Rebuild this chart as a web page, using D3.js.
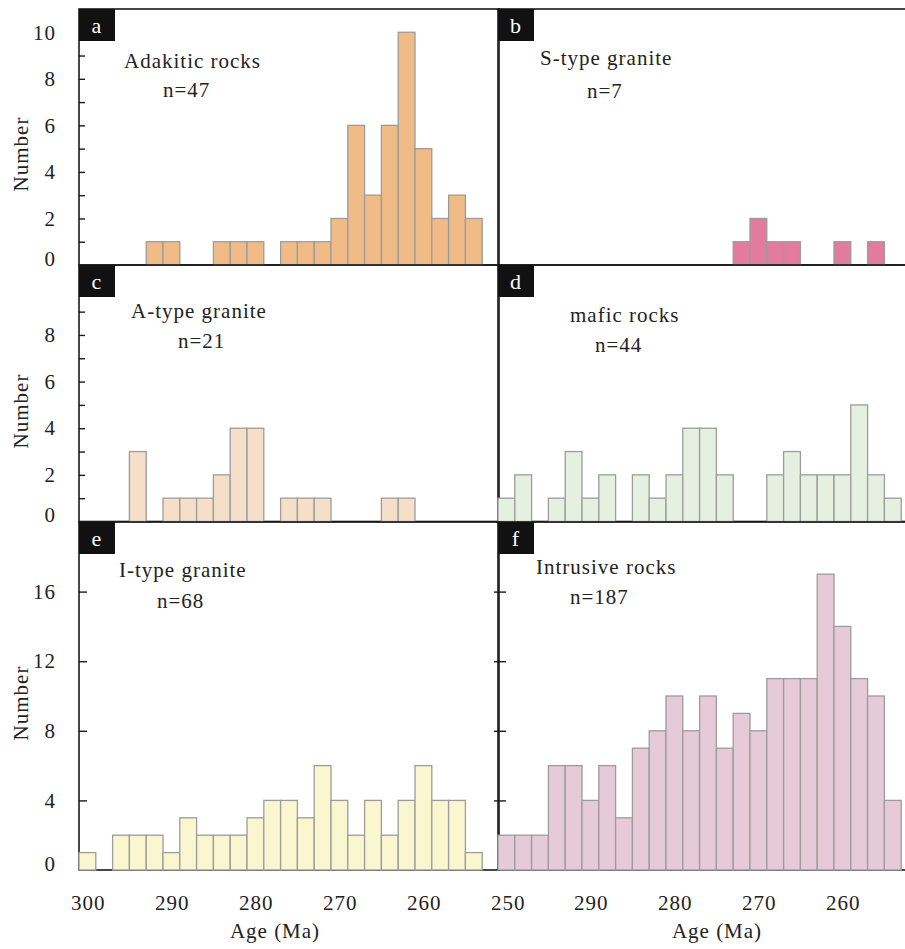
<!DOCTYPE html>
<html>
<head>
<meta charset="utf-8">
<script src="https://cdn.jsdelivr.net/npm/d3@7"></script>
<style>
body { margin: 0; background: #fff; }
svg text { font-family: "Liberation Serif", "Times New Roman", serif; fill: #222; letter-spacing: 1px; }
</style>
</head>
<body>
<svg width="905" height="949"></svg>
<script>
const svg = d3.select("svg");

// 2 Ma bins, keyed by their older edge: 302-300 Ma ... 254-252 Ma
const binStarts = d3.range(302, 252, -2);

// counts per bin
const adakitic  = [0,0,0,0,1,1,0,0,1,1,1,0,1,1,1,2,6,3,6,10,5,2,3,2,0];
const sType     = [0,0,0,0,0,0,0,0,0,0,0,0,0,0,1,2,1,1,0,0,1,0,1,0,0];
const aType     = [0,0,0,3,0,1,1,1,2,4,4,0,1,1,1,0,0,0,1,1,0,0,0,0,0];
const mafic     = [1,2,0,1,3,1,2,0,2,1,2,4,4,2,0,0,2,3,2,2,2,5,2,1,0];
const iType     = [1,0,2,2,2,1,3,2,2,2,3,4,4,3,6,4,2,4,2,4,6,4,4,1,0];
const intrusive = [2,2,2,6,6,4,6,3,7,8,10,8,10,7,9,8,11,11,11,17,14,11,10,4,0];

const ageTicksLeft = [300, 290, 280, 270, 260, 250];
const ageTicksRight = [290, 280, 270, 260];
const ageTickMarks = [290, 280, 270, 260];

const colLeft = [79, 498];
const colWidth = 420;
const rows = [
  {top: 9,   bottom: 265,   max: 11, ticks: d3.range(1, 11), labels: [0, 2, 4, 6, 8, 10], title: 154},
  {top: 265, bottom: 521.5, max: 11, ticks: d3.range(1, 11), labels: [0, 2, 4, 6, 8],     title: 411},
  {top: 522, bottom: 870,   max: 20, ticks: [4, 8, 12, 16],  labels: [0, 4, 8, 12, 16],   title: 703}
];

const panels = [
  {letter: "a", name: "Adakitic rocks",  counts: adakitic,  color: "#f0bb87", col: 0, row: 0, title: [45, 59], count: [84, 88]},
  {letter: "b", name: "S-type granite",  counts: sType,     color: "#e27b9d", col: 1, row: 0, title: [42, 56], count: [89, 89]},
  {letter: "c", name: "A-type granite",  counts: aType,     color: "#f5dfc8", col: 0, row: 1, title: [52, 53], count: [99, 83]},
  {letter: "d", name: "mafic rocks",     counts: mafic,     color: "#e6f0e1", col: 1, row: 1, title: [72, 57], count: [97, 87]},
  {letter: "e", name: "I-type granite",  counts: iType,     color: "#faf6cf", col: 0, row: 2, title: [40, 55], count: [78, 86]},
  {letter: "f", name: "Intrusive rocks", counts: intrusive, color: "#e6cad8", col: 1, row: 2, title: [38, 52], count: [72, 82]}
];

panels.forEach(p => {
  const r = rows[p.row];
  const x0 = colLeft[p.col];
  const x = d3.scaleLinear().domain([302, 252]).range([x0, x0 + colWidth]);
  const y = d3.scaleLinear().domain([0, r.max]).range([r.bottom, r.top]);
  const g = svg.append("g");

  // inward y ticks
  if (p.col === 0 || p.row === 2) {
    g.append("g")
      .attr("transform", "translate(" + x0 + ",0)")
      .call(d3.axisRight(y).tickValues(r.ticks).tickSize(p.row === 2 ? 8 : 6).tickFormat(""))
      .call(a => a.select(".domain").remove());
  }
  if (p.col === 0 && p.row === 2) {
    g.append("g")
      .attr("transform", "translate(" + (x0 + colWidth) + ",0)")
      .call(d3.axisLeft(y).tickValues(r.ticks).tickSize(5).tickFormat(""))
      .call(a => a.select(".domain").remove());
  }
  // y labels on the left column
  if (p.col === 0) {
    g.append("g")
      .attr("transform", "translate(" + x0 + ",0)")
      .call(d3.axisLeft(y).tickValues(r.labels).tickSize(0).tickPadding(23))
      .call(a => a.select(".domain").remove())
      .call(a => a.selectAll("text").attr("font-size", 21).attr("fill", "#222")
        .attr("font-family", "Liberation Serif, serif")
        .attr("dy", d => d === 0 ? "-0.0em" : "0.32em"));
    svg.append("text")
      .attr("transform", "translate(28," + r.title + ") rotate(-90)")
      .attr("text-anchor", "middle")
      .attr("font-size", 21)
      .text("Number");
  }

  // x axis on the bottom row
  if (p.row === 2) {
    g.append("g")
      .attr("transform", "translate(0," + r.bottom + ")")
      .call(d3.axisTop(x).tickValues(ageTickMarks).tickSize(7).tickFormat(""))
      .call(a => a.select(".domain").remove());
    g.append("g")
      .attr("transform", "translate(0," + r.bottom + ")")
      .call(d3.axisBottom(x).tickValues(p.col === 0 ? ageTicksLeft : ageTicksRight).tickSize(0).tickPadding(25))
      .call(a => a.select(".domain").remove())
      .call(a => a.selectAll("text").attr("font-size", 21).attr("fill", "#222")
        .attr("font-family", "Liberation Serif, serif").attr("dx", -8));
    svg.append("text")
      .attr("x", p.col === 0 ? 275 : 717)
      .attr("y", 938)
      .attr("text-anchor", "middle")
      .attr("font-size", 21)
      .text("Age (Ma)");
  }

  // frame
  g.selectAll("line").attr("stroke", "#1a1a1a").attr("stroke-width", 1.4);
  g.append("rect")
    .attr("x", x0).attr("y", r.top)
    .attr("width", colWidth).attr("height", r.bottom - r.top)
    .attr("fill", "none").attr("stroke", "#1a1a1a").attr("stroke-width", 1.6);

  // bars
  const bins = p.counts.map((c, i) => ({start: binStarts[i], count: c})).filter(d => d.count > 0);
  g.selectAll(".bar").data(bins).join("rect")
    .attr("class", "bar")
    .attr("x", d => x(d.start))
    .attr("width", d => x(d.start - 2) - x(d.start))
    .attr("y", d => y(d.count))
    .attr("height", d => y(0) - y(d.count))
    .attr("fill", p.color)
    .attr("stroke", "#9c9c9c")
    .attr("stroke-width", 1.3);

  // panel letter
  g.append("rect")
    .attr("x", x0).attr("y", r.top)
    .attr("width", 36).attr("height", 32)
    .attr("fill", "#111");
  g.append("text")
    .attr("x", x0 + 18).attr("y", r.top + 24)
    .attr("text-anchor", "middle")
    .attr("font-size", 22)
    .style("fill", "#fff")
    .text(p.letter);

  // name and count
  g.append("text")
    .attr("x", x0 + p.title[0]).attr("y", r.top + p.title[1])
    .attr("font-size", 21)
    .text(p.name);
  g.append("text")
    .attr("x", x0 + p.count[0]).attr("y", r.top + p.count[1])
    .attr("font-size", 21)
    .text("n=" + d3.sum(p.counts));
});
</script>
</body>
</html>
